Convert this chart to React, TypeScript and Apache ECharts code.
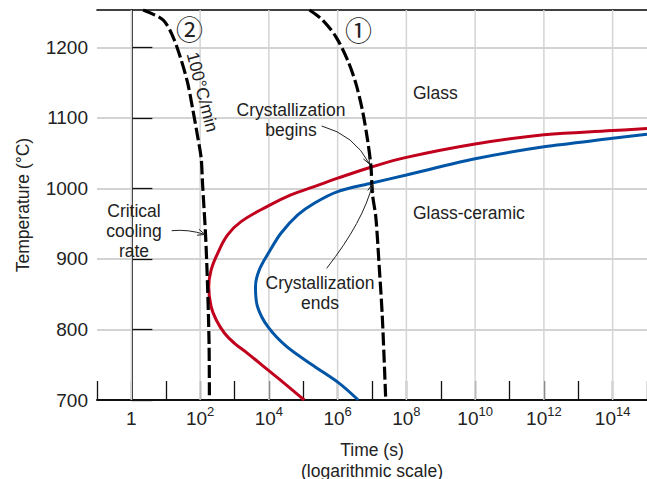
import React, { useEffect, useRef } from "react";
import * as echarts from "echarts";

// log10(time in s) and temperature (°C)
const beginsLogTime = [5.03, 4.45, 3.97, 3.38, 3.0, 2.71, 2.47, 2.32, 2.25, 2.32, 2.51, 2.8, 3.19, 3.97, 4.64, 5.32, 6.0, 6.97, 8.0, 10.0, 12.0, 14.0, 15.0];
const beginsTemp = [700, 723.7, 742.6, 766.2, 780.4, 794.6, 813.5, 832.3, 860.7, 884.4, 908, 934, 952.9, 975, 990.8, 1002.6, 1014.5, 1030.1, 1044, 1063, 1076, 1082, 1085];

const endsLogTime = [6.6, 6.05, 5.3, 4.52, 3.97, 3.67, 3.61, 3.72, 4.02, 4.35, 4.84, 5.32, 6.0, 6.97, 8.0, 10.0, 12.0, 14.0, 15.0];
const endsTemp = [700, 723.6, 748.5, 775.6, 804, 832.3, 860.7, 884.4, 911, 936.4, 962.4, 979, 995.5, 1007.4, 1019, 1042, 1059, 1071, 1077];

const cool1LogTime = [5.18, 5.56, 5.95, 6.29, 6.53, 6.72, 6.87, 6.97, 7.01, 7.11, 7.21, 7.3, 7.4];
const cool1Temp = [1253, 1239, 1215, 1182, 1149, 1111, 1069, 1031, 993, 960, 889, 818, 700];

const cool2LogTime = [0.34, 0.92, 1.21, 1.45, 1.64, 1.79, 1.93, 2.03, 2.07, 2.16, 2.22, 2.26, 2.27];
const cool2Temp = [1253, 1239, 1215, 1182, 1149, 1111, 1073, 1043, 1007, 932, 856, 780, 700];

const gridDecades = [0, 2, 4, 6, 8, 10, 12, 14];

const FONT = "Liberation Sans";
const TXT = "#222";

function zip(xs: number[], ys: number[]) {
  return xs.map((x, i) => [x, ys[i]]);
}

function arrowEls(x0: number, y0: number, cx: number, cy: number, x1: number, y1: number) {
  const ang = Math.atan2(y1 - cy, x1 - cx);
  const L = 8;
  const a = 0.4;
  const p1 = [x1 - L * Math.cos(ang - a), y1 - L * Math.sin(ang - a)];
  const p2 = [x1 - L * Math.cos(ang + a), y1 - L * Math.sin(ang + a)];
  return [
    {
      type: "bezierCurve",
      shape: { x1: x0, y1: y0, cpx1: cx, cpy1: cy, x2: x1, y2: y1 },
      style: { stroke: TXT, lineWidth: 1, fill: "none" },
      z: 10,
    },
    {
      type: "polyline",
      shape: { points: [p1, [x1, y1], p2] },
      style: { stroke: TXT, lineWidth: 1, fill: "none" },
      z: 10,
    },
  ];
}

function label(text: string, x: number, y: number, align = "center", extra: any = {}) {
  return {
    type: "text",
    x,
    y,
    z: 10,
    ...extra,
    style: {
      text,
      fill: TXT,
      fontSize: 17.5,
      fontFamily: FONT,
      align,
      verticalAlign: "middle",
      lineHeight: 20,
    },
  };
}

export default function App() {
  const ref = useRef<HTMLDivElement>(null);
  useEffect(() => {
    if (!ref.current) return;
    const chart = echarts.init(ref.current, undefined, { renderer: "svg" });
    const option: any = {
      animation: false,
      backgroundColor: "#fff",
      grid: { left: 97, right: 0, top: 10, bottom: 79, containLabel: false, outerBoundsMode: "none" },
      xAxis: [
        {
          type: "value",
          min: -1,
          max: 15,
          interval: 1,
          position: "bottom",
          name: "Time (s)\n(logarithmic scale)",
          nameLocation: "middle",
          nameGap: 39,
          nameTextStyle: { fontSize: 17.5, fontFamily: FONT, color: TXT, lineHeight: 21 },
          axisLine: { show: true, lineStyle: { color: "#111", width: 2 } },
          axisTick: { show: true, inside: true, length: 19, lineStyle: { color: "#111", width: 1.3 } },
          splitLine: { show: false },
          axisLabel: {
            margin: 5,
            formatter: (v: number) => {
              if (v < 0 || v % 2 !== 0) return "";
              if (v === 0) return "{b|1}";
              return "{b|10}{s|" + v + "}";
            },
            rich: {
              b: { fontSize: 19, lineHeight: 26, fontFamily: FONT, color: TXT },
              s: { fontSize: 13, lineHeight: 13, verticalAlign: "top", fontFamily: FONT, color: TXT },
            },
          },
        },
        {
          type: "value",
          min: -1,
          max: 15,
          interval: 1,
          position: "top",
          axisLine: { show: true, lineStyle: { color: "#111", width: 1.7 } },
          axisTick: { show: false },
          axisLabel: { show: false },
          splitLine: { show: false },
        },
      ],
      yAxis: {
        type: "value",
        min: 700,
        max: 1253,
        interval: 100,
        name: "Temperature (°C)",
        nameLocation: "middle",
        nameGap: 65,
        nameTextStyle: { fontSize: 17.5, fontFamily: FONT, color: TXT },
        axisLine: { show: true, lineStyle: { color: "#111", width: 1.7 } },
        axisTick: { show: true, inside: true, length: 21, lineStyle: { color: "#111", width: 1.3 } },
        splitLine: { show: true, lineStyle: { color: "#c4c4c4", width: 1.5 } },
        axisLabel: {
          showMaxLabel: false,
          margin: 9,
          fontSize: 19,
          fontFamily: FONT,
          color: TXT,
          formatter: (v: number) => String(v),
        },
      },
      series: [
        {
          type: "custom",
          name: "decade grid",
          silent: true,
          z: 1,
          data: gridDecades.map((d) => [d]),
          encode: { x: 0 },
          renderItem: (params: any, api: any) => {
            const x = api.coord([api.value(0), 700])[0];
            const cs = params.coordSys;
            return {
              type: "line",
              shape: { x1: x, y1: cs.y, x2: x, y2: cs.y + cs.height },
              style: { stroke: "#d4d4d4", lineWidth: 1.5 },
            };
          },
        },
        {
          name: "Crystallization begins",
          type: "line",
          data: zip(beginsLogTime, beginsTemp),
          showSymbol: false,
          smooth: 0.4,
          z: 3,
          lineStyle: { color: "#c0001c", width: 3 },
        },
        {
          name: "Crystallization ends",
          type: "line",
          data: zip(endsLogTime, endsTemp),
          showSymbol: false,
          smooth: 0.3,
          z: 3,
          lineStyle: { color: "#0055a6", width: 3 },
        },
        {
          name: "Cooling 1",
          type: "line",
          data: zip(cool1LogTime, cool1Temp),
          showSymbol: false,
          smooth: 0.3,
          z: 4,
          lineStyle: { color: "#000", width: 3.2, type: [13, 4] },
        },
        {
          name: "Cooling 2",
          type: "line",
          data: zip(cool2LogTime, cool2Temp),
          showSymbol: false,
          smooth: 0.3,
          z: 4,
          lineStyle: { color: "#000", width: 3.2, type: [13, 4] },
        },
      ],
      graphic: [
        {
          type: "text",
          x: 189.5,
          y: 28.5,
          z: 10,
          style: { text: "②", fill: TXT, fontSize: 27, fontFamily: "Noto Sans CJK JP", align: "center", verticalAlign: "middle" },
        },
        {
          type: "text",
          x: 358.5,
          y: 29.5,
          z: 10,
          style: { text: "①", fill: TXT, fontSize: 27, fontFamily: "Noto Sans CJK JP", align: "center", verticalAlign: "middle" },
        },
        label("100°C/min", 202.5, 92, "center", { rotation: (-75.5 * Math.PI) / 180 }),
        label("Glass", 413, 93, "left"),
        label("Glass-ceramic", 413, 213, "left"),
        label("Crystallization\nbegins", 291, 120),
        label("Crystallization\nends", 320, 293),
        label("Critical\ncooling\nrate", 134, 231),
        ...arrowEls(321.7, 126, 354.5, 135, 369.5, 164),
        ...arrowEls(326.7, 268.3, 363.7, 220.8, 372.5, 184),
        ...arrowEls(171.7, 230.7, 188, 229, 205, 234.5),
      ],
    };
    chart.setOption(option);
    return () => chart.dispose();
  }, []);
  return (
    <div
      ref={ref}
      style={{ position: "fixed", left: 0, top: 0, width: 647, height: 479, background: "#fff" }}
    />
  );
}
